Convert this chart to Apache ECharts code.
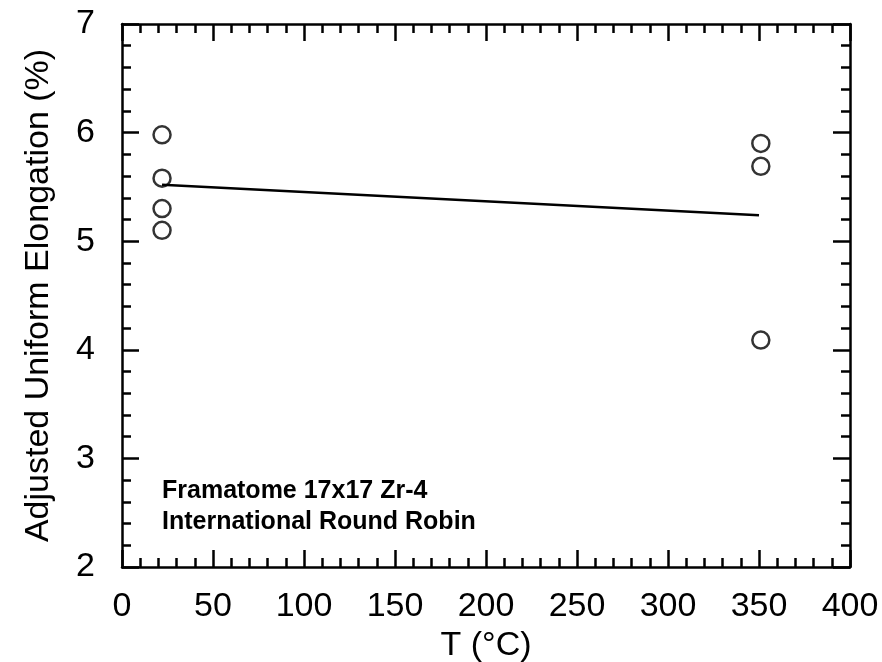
<!DOCTYPE html>
<html>
<head>
<meta charset="utf-8">
<script src="https://cdn.jsdelivr.net/npm/echarts@6/dist/echarts.min.js"></script>
<style>html,body{margin:0;padding:0;background:#fff}#c{width:882px;height:662px}</style>
</head>
<body>
<div id="c"></div>
<script>
const pointsT = [22, 22, 22, 22, 351, 351, 351];
const pointsE = [5.98, 5.58, 5.30, 5.10, 5.90, 5.69, 4.09];
const fitT = [22, 350];
const fitE = [5.52, 5.24];
const xTicks = [0, 50, 100, 150, 200, 250, 300, 350, 400];
const yTicks = [2, 3, 4, 5, 6, 7];
const noteLines = ['Framatome 17x17 Zr-4', 'International Round Robin'];

const FONT = 'Liberation Sans, Arial, Helvetica, sans-serif';
const chart = echarts.init(document.getElementById('c'), null, {renderer: 'canvas'});
const BLACK = {color: '#000', width: 2.5};
const gridBox = {left: 122, top: 24, right: 32, bottom: 95, containLabel: false, outerBoundsMode: 'none'};

function mkX(gridIndex, pos, major, labelled) {
  return {
    type: 'value', gridIndex: gridIndex, min: 0, max: 400, interval: major ? 50 : 10,
    position: pos,
    name: labelled ? 'T (°C)' : '', nameLocation: 'middle', nameGap: 30,
    nameTextStyle: {fontFamily: FONT, fontSize: 34, color: '#000'},
    axisLine: {show: major, onZero: false, lineStyle: BLACK},
    axisTick: {show: true, inside: true, length: major ? 17 : 9, lineStyle: BLACK},
    minorTick: {show: false},
    axisLabel: {show: labelled, margin: 23, fontFamily: FONT, fontSize: 34, color: '#000',
      formatter: v => xTicks.includes(v) ? String(v) : ''},
    splitLine: {show: false}
  };
}
function mkY(gridIndex, pos, major, labelled) {
  return {
    type: 'value', gridIndex: gridIndex, min: 2, max: 7, interval: major ? 1 : 0.2,
    position: pos,
    name: labelled ? 'Adjusted Uniform Elongation (%)' : '', nameLocation: 'middle', nameGap: 66,
    nameTextStyle: {fontFamily: FONT, fontSize: 34, color: '#000'},
    axisLine: {show: major, onZero: false, lineStyle: BLACK},
    axisTick: {show: true, inside: true, length: major ? 17 : 9, lineStyle: BLACK},
    minorTick: {show: false},
    axisLabel: {show: labelled, margin: 27, fontFamily: FONT, fontSize: 34, color: '#000',
      formatter: v => yTicks.includes(v) ? String(v) : ''},
    splitLine: {show: false}
  };
}

chart.setOption({
  backgroundColor: '#fff',
  animation: false,
  grid: [Object.assign({}, gridBox), Object.assign({}, gridBox)],
  xAxis: [mkX(0, 'bottom', true, true), mkX(0, 'top', true, false),
          mkX(1, 'bottom', false, false), mkX(1, 'top', false, false)],
  yAxis: [mkY(0, 'left', true, true), mkY(0, 'right', true, false),
          mkY(1, 'left', false, false), mkY(1, 'right', false, false)],
  graphic: noteLines.map((t, i) => ({
    type: 'text', left: 162, top: 479 + i * 31,
    style: {text: t, font: 'bold 25px ' + FONT, fill: '#000'}
  })),
  series: [
    {
      type: 'line', xAxisIndex: 0, yAxisIndex: 0,
      data: fitT.map((t, i) => [t, fitE[i]]),
      showSymbol: false, symbol: 'none',
      lineStyle: {color: '#000', width: 2.5}, z: 2
    },
    {
      type: 'scatter', xAxisIndex: 0, yAxisIndex: 0,
      data: pointsT.map((t, i) => [t, pointsE[i]]),
      symbol: 'circle', symbolSize: 17,
      itemStyle: {color: 'rgba(255,255,255,0)', borderColor: '#000', borderWidth: 2.5}, z: 3
    }
  ]
});
</script>
</body>
</html>
